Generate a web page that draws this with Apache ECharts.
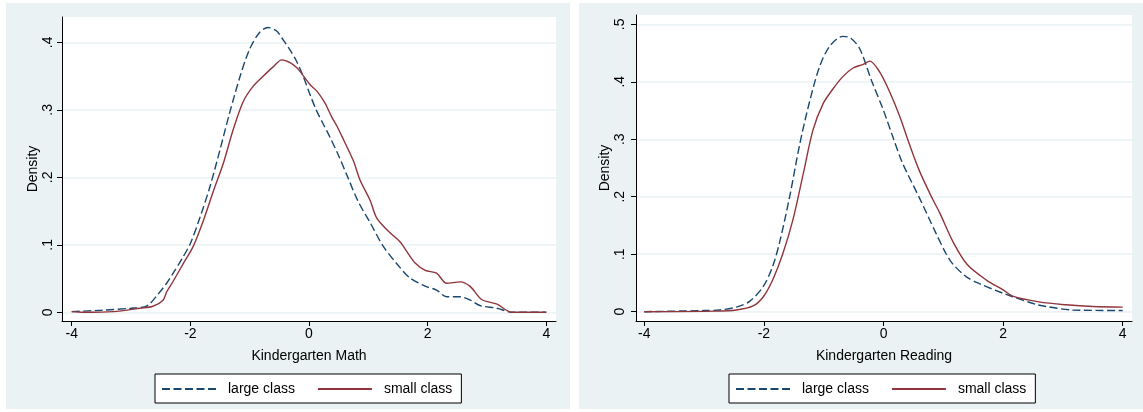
<!DOCTYPE html>
<html>
<head>
<meta charset="utf-8">
<script src="https://cdn.jsdelivr.net/npm/echarts@6/dist/echarts.min.js"></script>
<style>
html,body{margin:0;padding:0;background:#fff;}
#c{width:1143px;height:412px;}
</style>
</head>
<body>
<div id="c"></div>
<script>
// ---- data ----
const seriesNames = ['large class', 'small class'];
const xTicks = [-4, -2, 0, 2, 4];
const yTicksMath = [0, 0.1, 0.2, 0.3, 0.4];
const yTicksReading = [0, 0.1, 0.2, 0.3, 0.4, 0.5];

const mathLargeX = [-4, -3.5, -3.0, -2.77, -2.68, -2.57, -2.4, -2.29, -2.15, -2.0, -1.84, -1.67, -1.5, -1.33, -1.16, -1.0, -0.83, -0.69, -0.55, -0.43, -0.3, -0.21, -0.1, 0.02, 0.12, 0.24, 0.35, 0.5, 0.64, 0.83, 1.03, 1.25, 1.48, 1.7, 1.98, 2.15, 2.32, 2.55, 2.72, 2.88, 3.17, 3.42, 4.0];
const mathLargeY = [0.001, 0.003, 0.006, 0.008, 0.013, 0.024, 0.043, 0.058, 0.078, 0.102, 0.140, 0.186, 0.241, 0.298, 0.350, 0.390, 0.415, 0.422, 0.417, 0.403, 0.386, 0.372, 0.350, 0.322, 0.300, 0.279, 0.260, 0.232, 0.203, 0.164, 0.133, 0.098, 0.072, 0.051, 0.038, 0.033, 0.023, 0.023, 0.018, 0.010, 0.006, 0.0, 0.0];

const mathSmallX = [-4, -3.8, -3.3, -2.85, -2.63, -2.46, -2.4, -2.29, -2.12, -1.95, -1.78, -1.61, -1.44, -1.28, -1.11, -0.94, -0.77, -0.6, -0.46, -0.32, -0.2, -0.1, 0.02, 0.13, 0.27, 0.38, 0.47, 0.58, 0.75, 0.86, 1.03, 1.14, 1.34, 1.53, 1.65, 1.79, 1.96, 2.15, 2.32, 2.55, 2.72, 2.91, 3.17, 3.42, 4.0];
const mathSmallY = [0.001, 0.0, 0.001, 0.006, 0.009, 0.018, 0.030, 0.046, 0.072, 0.098, 0.136, 0.180, 0.222, 0.270, 0.312, 0.335, 0.350, 0.364, 0.374, 0.370, 0.362, 0.351, 0.337, 0.328, 0.310, 0.290, 0.276, 0.256, 0.224, 0.196, 0.166, 0.140, 0.120, 0.105, 0.090, 0.073, 0.062, 0.058, 0.043, 0.045, 0.038, 0.019, 0.012, 0.0, 0.0];

const readLargeX = [-4, -3.0, -2.74, -2.46, -2.24, -2.01, -1.85, -1.73, -1.57, -1.4, -1.24, -1.07, -0.9, -0.68, -0.55, -0.4, -0.2, 0.0, 0.17, 0.32, 0.6, 0.87, 1.05, 1.15, 1.38, 1.6, 2.0, 2.16, 2.54, 2.72, 3.16, 4.0];
const readLargeY = [0.0, 0.002, 0.003, 0.008, 0.018, 0.044, 0.080, 0.124, 0.200, 0.292, 0.364, 0.426, 0.462, 0.479, 0.476, 0.458, 0.402, 0.350, 0.300, 0.258, 0.198, 0.138, 0.100, 0.084, 0.061, 0.049, 0.032, 0.026, 0.013, 0.009, 0.003, 0.002];

const readSmallX = [-4, -2.8, -2.46, -2.18, -2.01, -1.85, -1.68, -1.51, -1.34, -1.18, -1.01, -0.85, -0.68, -0.51, -0.35, -0.23, -0.07, 0.1, 0.27, 0.43, 0.6, 0.82, 0.94, 1.16, 1.4, 1.72, 2.0, 2.16, 2.6, 3.05, 3.5, 4.0];
const readSmallY = [0.0, 0.001, 0.003, 0.010, 0.026, 0.056, 0.102, 0.162, 0.241, 0.316, 0.362, 0.387, 0.409, 0.424, 0.430, 0.436, 0.418, 0.383, 0.340, 0.292, 0.245, 0.196, 0.172, 0.122, 0.082, 0.055, 0.038, 0.027, 0.017, 0.012, 0.009, 0.008];

// ---- build ----
const pairs = (xs, ys) => xs.map((x, i) => [x, ys[i]]);
const FONT = 'Liberation Sans, Arial, sans-serif';
const NAVY = '#1a476f', MAROON = '#90353b', BG = '#eaf2f3';
const yFmt = v => (v === 0 ? '0' : String(+v.toFixed(2)).replace(/^0/, ''));

function xAxisFor(gi, min, max, name) {
  return {
    type: 'value', gridIndex: gi, min: min, max: max,
    name: name, nameLocation: 'middle', nameGap: 28,
    nameTextStyle: { fontSize: 14, fontFamily: FONT, color: '#000' },
    axisLine: { show: true, onZero: false, lineStyle: { color: '#000', width: 1 } },
    axisTick: { show: true, inside: false, length: 5, customValues: xTicks, lineStyle: { color: '#000' } },
    axisLabel: { show: true, customValues: xTicks, margin: 6, fontSize: 14, fontFamily: FONT, color: '#000', formatter: v => String(v) },
    splitLine: { show: false }
  };
}
function yAxisFor(gi, min, max, ticks, nameGap, labelMargin) {
  return {
    type: 'value', gridIndex: gi, min: min, max: max,
    name: 'Density', nameLocation: 'middle', nameGap: nameGap,
    nameTextStyle: { fontSize: 14, fontFamily: FONT, color: '#000' },
    axisLine: { show: true, onZero: false, lineStyle: { color: '#000', width: 1 } },
    axisTick: { show: true, inside: false, length: 5, customValues: ticks, lineStyle: { color: '#000' } },
    axisLabel: { show: true, customValues: ticks, rotate: 90, margin: labelMargin, fontSize: 14, fontFamily: FONT, color: '#000', formatter: yFmt },
    splitLine: { show: true, lineStyle: { color: BG, width: 1.5 } }
  };
}
function legendFor(left) {
  return {
    left: left, top: 374, orient: 'horizontal',
    itemWidth: 54, itemHeight: 14, itemGap: 22,
    padding: [8, 9, 7, 6],
    borderColor: '#000', borderWidth: 1, borderRadius: 0, backgroundColor: '#fff',
    itemStyle: { opacity: 0, borderWidth: 0 },
    textStyle: { fontSize: 14, fontFamily: FONT, color: '#000', padding: [0, 0, 0, 7] },
    data: seriesNames
  };
}
function lineSeries(name, xi, yi, data, color, dashed) {
  return {
    name: name, type: 'line', xAxisIndex: xi, yAxisIndex: yi,
    data: data, symbol: 'none', showSymbol: false, smooth: 0.3,
    lineStyle: { color: color, width: 1.4, type: dashed ? [8, 3.5] : 'solid' },
    itemStyle: { color: color },
    emphasis: { disabled: true }, animation: false
  };
}

const chart = echarts.init(document.getElementById('c'), null, { renderer: 'canvas' });
chart.setOption({
  animation: false,
  backgroundColor: '#fff',
  graphic: [
    { type: 'rect', shape: { x: 6, y: 3, width: 564, height: 406 }, style: { fill: BG }, z: -10, silent: true },
    { type: 'rect', shape: { x: 579, y: 3, width: 564, height: 406 }, style: { fill: BG }, z: -10, silent: true }
  ],
  grid: [
    { left: 62, top: 17, width: 494, height: 304, show: true, backgroundColor: '#fff', borderWidth: 0, containLabel: false },
    { left: 636, top: 15, width: 496, height: 306, show: true, backgroundColor: '#fff', borderWidth: 0, containLabel: false }
  ],
  xAxis: [
    xAxisFor(0, -4.164, 4.164, 'Kindergarten Math'),
    xAxisFor(1, -4.139, 4.155, 'Kindergarten Reading')
  ],
  yAxis: [
    yAxisFor(0, -0.0129, 0.4375, yTicksMath, 22, 7),
    yAxisFor(1, -0.0162, 0.5162, yTicksReading, 24, 9)
  ],
  legend: [legendFor(155), legendFor(729)],
  series: [
    lineSeries('large class', 0, 0, pairs(mathLargeX, mathLargeY), NAVY, true),
    lineSeries('small class', 0, 0, pairs(mathSmallX, mathSmallY), MAROON, false),
    lineSeries('large class', 1, 1, pairs(readLargeX, readLargeY), NAVY, true),
    lineSeries('small class', 1, 1, pairs(readSmallX, readSmallY), MAROON, false)
  ]
});
</script>
</body>
</html>
